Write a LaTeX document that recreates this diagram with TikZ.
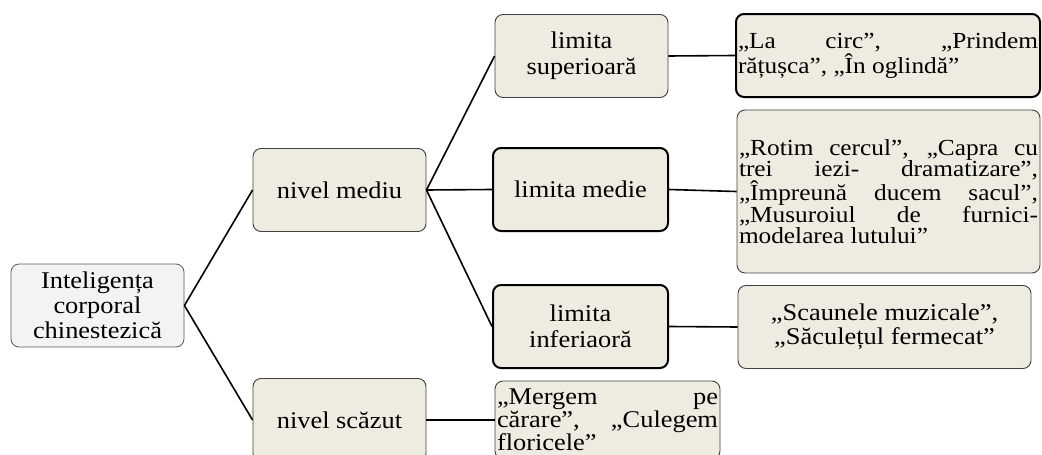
\documentclass[tikz,border=0pt]{standalone}
\usepackage{fontspec}
\setmainfont{Liberation Serif}[FakeStretch=1.1]
\usepackage{xcolor}
\definecolor{tanbg}{HTML}{EEECE1}
\definecolor{greybg}{HTML}{F3F3F3}
\tikzset{
  rootbox/.style={draw=black!65, line width=0.8pt, rounded corners=8pt, fill=greybg, minimum width=173pt, minimum height=83pt, align=center, inner sep=2pt, font=\fontsize{24}{25}\selectfont},
  levelbox/.style={draw=black!75, line width=0.9pt, rounded corners=8pt, fill=tanbg, minimum width=173pt, minimum height=83pt, align=center, inner sep=2pt, font=\fontsize{24}{26}\selectfont},
  boldbox/.style={levelbox, draw=black, line width=2pt},
  ideasbox/.style={levelbox, align=justify, font=\fontsize{23}{21}\selectfont},
  link/.style={line width=1.6pt}
}

\begin{document}
\begin{tikzpicture}[x=1pt,y=-1pt]
  \useasboundingbox (0,0) rectangle (1042,455);
  \clip (0,0) rectangle (1042,455);

  \node[rootbox] (root) at (97.5,305.5) {Inteligența\\corporal\\chinestezică};
  \node[levelbox] (mediu) at (339.5,190) {nivel mediu};
  \node[levelbox] (scazut) at (339.5,420) {nivel scăzut};

  \node[levelbox] (sup) at (581.5,56) {limita\\superioară};
  \node[boldbox, minimum width=175pt] (medie) at (580.5,189.5) {limita medie};
  \node[boldbox, minimum width=175pt] (inf) at (580.5,326.5) {limita\\inferiaoră};

  \node[ideasbox, text width=300pt, draw=black, line width=2pt] (circ) at (888,55.5) {„La circ”, „Prindem\linebreak rățușca”, „În oglindă”};
  \node[ideasbox, text width=299pt, minimum height=163pt] (cerc) at (888.5,191.5) {„Rotim cercul”, „Capra cu\linebreak trei iezi- dramatizare”,\linebreak „Împreună ducem sacul”,\linebreak „Musuroiul de furnici-\linebreak modelarea lutului”};
  \node[levelbox, minimum width=293pt, font=\fontsize{24}{24}\selectfont] (scaune) at (884.5,327) {„Scaunele muzicale”,\\„Săculețul fermecat”};
  \node[ideasbox, text width=221pt, minimum height=78pt, font=\fontsize{24}{23}\selectfont] (carare) at (607.5,420) {„Mergem pe\linebreak cărare”, „Culegem\linebreak floricele”};

  \draw[link] (root.east) -- (mediu.west);
  \draw[link] (root.east) -- (scazut.west);
  \foreach \lim in {sup,medie,inf}
    \draw[link] (mediu.east) -- (\lim.west);
  \draw[link] (sup.east) -- (circ.west);
  \draw[link] (medie.east) -- (cerc.west);
  \draw[link] (inf.east) -- (scaune.west);
  \draw[link] (scazut.east) -- (carare.west);
\end{tikzpicture}
\end{document}
